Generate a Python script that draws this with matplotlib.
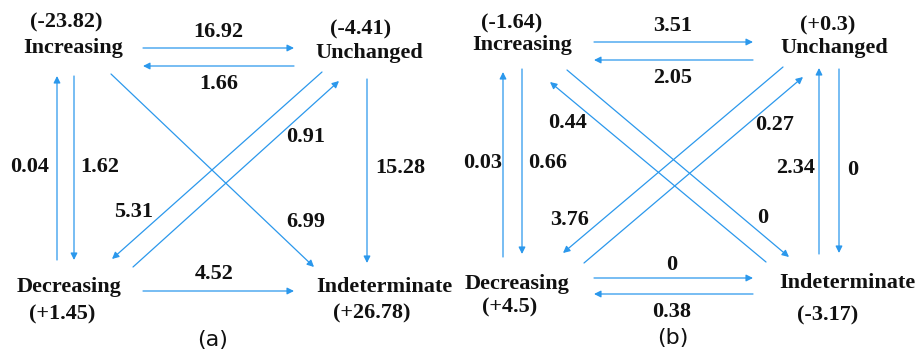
import matplotlib.pyplot as plt

# states and the change in each state (in brackets)
states = ['Increasing', 'Unchanged', 'Decreasing', 'Indeterminate']
change_a = ['(-23.82)', '(-4.41)', '(+1.45)', '(+26.78)']
change_b = ['(-1.64)', '(+0.3)', '(+4.5)', '(-3.17)']

# transitions (from, to) and their values
pairs_a = [('Increasing', 'Unchanged'), ('Unchanged', 'Increasing'),
           ('Decreasing', 'Increasing'), ('Increasing', 'Decreasing'),
           ('Increasing', 'Indeterminate'), ('Unchanged', 'Decreasing'),
           ('Decreasing', 'Unchanged'), ('Unchanged', 'Indeterminate'),
           ('Decreasing', 'Indeterminate')]
values_a = ['16.92', '1.66', '0.04', '1.62', '6.99', '5.31', '0.91', '15.28', '4.52']

pairs_b = [('Increasing', 'Unchanged'), ('Unchanged', 'Increasing'),
           ('Decreasing', 'Increasing'), ('Increasing', 'Decreasing'),
           ('Indeterminate', 'Increasing'), ('Increasing', 'Indeterminate'),
           ('Unchanged', 'Decreasing'), ('Decreasing', 'Unchanged'),
           ('Indeterminate', 'Unchanged'), ('Unchanged', 'Indeterminate'),
           ('Decreasing', 'Indeterminate'), ('Indeterminate', 'Decreasing')]
values_b = ['3.51', '2.05', '0.03', '0.66', '0.44', '0', '3.76', '0.27',
            '2.34', '0', '0', '0.38']

# ---- layout (pixel positions of the diagram) ----
name_pos_a = {'Increasing': (73, 48), 'Unchanged': (369, 53),
              'Decreasing': (69, 287), 'Indeterminate': (384, 287)}
chg_pos_a = {'Increasing': (66, 22), 'Unchanged': (361, 29),
             'Decreasing': (62, 314), 'Indeterminate': (372, 313)}
name_pos_b = {'Increasing': (522, 45), 'Unchanged': (834, 48),
              'Decreasing': (517, 284), 'Indeterminate': (847, 283)}
chg_pos_b = {'Increasing': (512, 23), 'Unchanged': (828, 25),
             'Decreasing': (510, 307), 'Indeterminate': (828, 315)}

# tail, head, label position for each transition (same order as pairs)
geom_a = [((143, 48), (294, 48), (218, 32)),
          ((294, 66), (143, 66), (219, 84)),
          ((57, 260), (57, 76), (30, 167)),
          ((74, 76), (74, 260), (100, 167)),
          ((111, 74), (314, 267), (306, 222)),
          ((322, 72), (112, 259), (134, 212)),
          ((133, 267), (339, 81), (306, 137)),
          ((367, 79), (367, 263), (400, 168)),
          ((143, 291), (294, 291), (214, 274))]
geom_b = [((594, 42), (753, 42), (673, 26)),
          ((753, 60), (594, 60), (673, 78)),
          ((503, 257), (503, 72), (483, 163)),
          ((522, 69), (522, 254), (548, 163)),
          ((766, 262), (550, 82), (567, 123)),
          ((567, 70), (789, 257), (763, 218)),
          ((783, 67), (563, 253), (570, 220)),
          ((584, 263), (803, 77), (775, 125)),
          ((819, 254), (819, 68), (796, 168)),
          ((839, 69), (839, 253), (853, 170)),
          ((594, 278), (753, 278), (672, 265)),
          ((753, 294), (594, 294), (672, 312))]

blue = '#2b98ec'
ink = '#111111'
serif = dict(family='Liberation Serif', weight='bold', fontsize=16, color=ink,
             ha='center', va='center')

fig = plt.figure(figsize=(9.21, 3.56), dpi=100)
ax = fig.add_axes([0, 0, 1, 1])
ax.set_xlim(0, 921)
ax.set_ylim(356, 0)
ax.axis('off')


def draw_panel(changes, name_pos, chg_pos, pairs, values, geom, tag, tag_pos):
    for s, c in zip(states, changes):
        ax.text(*name_pos[s], s, **serif)
        ax.text(*chg_pos[s], c, **serif)
    for (src, dst), v, (tail, head, lab) in zip(pairs, values, geom):
        ax.annotate('', xy=head, xytext=tail,
                    arrowprops=dict(arrowstyle='-|>', color=blue, lw=0.9,
                                    mutation_scale=10, shrinkA=0, shrinkB=0))
        ax.text(*lab, v, **serif)
    ax.text(*tag_pos, tag, family='DejaVu Sans', fontsize=16, color=ink,
            ha='center', va='center')


draw_panel(change_a, name_pos_a, chg_pos_a, pairs_a, values_a, geom_a, '(a)', (213, 340))
draw_panel(change_b, name_pos_b, chg_pos_b, pairs_b, values_b, geom_b, '(b)', (673, 338))

fig.savefig('out.png', dpi=100)
